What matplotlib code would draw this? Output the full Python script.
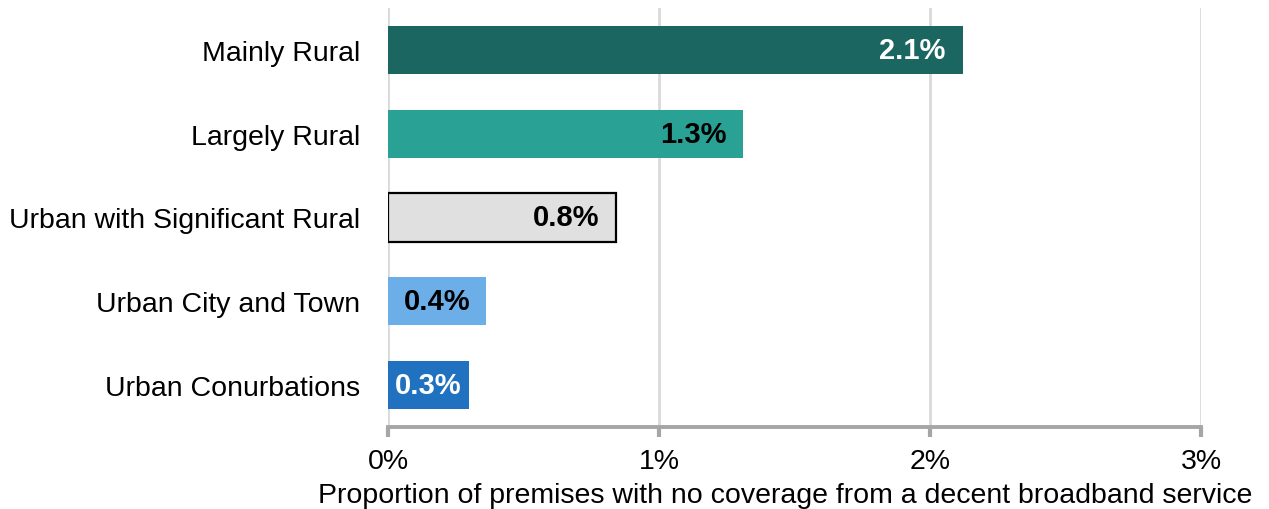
import matplotlib
matplotlib.use("Agg")
import matplotlib.pyplot as plt

plt.rcParams['font.family'] = ['Liberation Sans', 'DejaVu Sans']

categories = ["Mainly Rural", "Largely Rural", "Urban with Significant Rural",
              "Urban City and Town", "Urban Conurbations"]
values = [2.12, 1.31, 0.84, 0.36, 0.30]
bar_colors = ["#1b6660", "#29a195", "#e0e0e0", "#6caee8", "#2072c0"]
edge_colors = ["none", "none", "black", "none", "none"]
label_colors = ["white", "black", "black", "black", "white"]
x_ticks = [0, 1, 2, 3]
x_title = "Proportion of premises with no coverage from a decent broadband service"

fig = plt.figure(figsize=(12.69, 5.10), dpi=100)
ax = fig.add_axes([388 / 1269, 1 - 428 / 510, 813 / 1269, 419 / 510])

ypos = list(range(len(categories)))
ax.barh(ypos, values, height=0.574, color=bar_colors, edgecolor=edge_colors,
        linewidth=1.6, zorder=3)
ax.set_ylim(len(categories) - 0.5, -0.5)
ax.set_xlim(0, 3)

ax.set_yticks(ypos)
ax.set_yticklabels(categories, fontsize=20.5)
ax.tick_params(axis='y', length=0, pad=20)

ax.set_xticks(x_ticks)
ax.set_xticklabels([f"{t}%" for t in x_ticks], fontsize=20.5)
ax.tick_params(axis='x', length=7, width=3, color="#a6a6a6", pad=8)

ax.grid(axis='x', color="#d9d9d9", linewidth=2, zorder=0)
for s in ["top", "right", "left"]:
    ax.spines[s].set_visible(False)
ax.spines["bottom"].set_color("#a6a6a6")
ax.spines["bottom"].set_linewidth(2.8)
ax.spines["bottom"].set_zorder(4)

# value labels: inside end for long bars, centred for short ones
px_per_unit = ax.get_position().width * fig.get_figwidth() * fig.dpi / 3
for y, v, c in zip(ypos, values, label_colors):
    txt = f"{v:.1f}%"
    if v * px_per_unit < 110:
        ax.text(v / 2, y, txt, ha="center", va="center", fontsize=21,
                fontweight="bold", color=c, zorder=5)
    else:
        ax.annotate(txt, (v, y), xytext=(-12, 0), textcoords="offset points",
                    ha="right", va="center", fontsize=21, fontweight="bold",
                    color=c, zorder=5)

fig.text(785 / 1269, 1 - 496 / 510, x_title, ha="center", va="center", fontsize=20.5)

fig.savefig("out.png", dpi=100)
